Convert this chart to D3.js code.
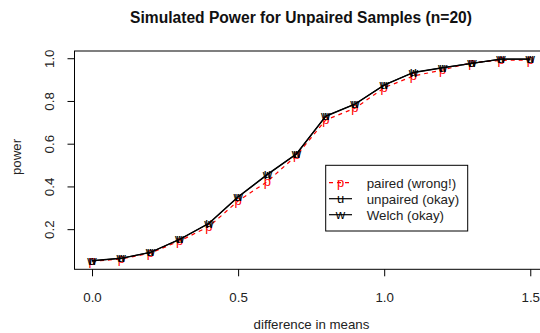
<!DOCTYPE html>
<html>
<head>
<meta charset="utf-8">
<script src="https://cdn.jsdelivr.net/npm/d3@7"></script>
<style>
  html, body { margin: 0; padding: 0; background: #fff; }
  svg { display: block; }
  text { font-family: "Liberation Sans", Arial, Helvetica, sans-serif; }
</style>
</head>
<body>
<svg id="chart" width="540" height="333"></svg>
<script>
// simulated power
const diffs    = [0, 0.1, 0.2, 0.3, 0.4, 0.5, 0.6, 0.7, 0.8, 0.9, 1.0, 1.1, 1.2, 1.3, 1.4, 1.5];
const paired   = [0.050, 0.060, 0.088, 0.145, 0.212, 0.332, 0.423, 0.545, 0.711, 0.766, 0.862, 0.917, 0.945, 0.980, 0.990, 0.992];
const unpaired = [0.053, 0.064, 0.092, 0.153, 0.228, 0.352, 0.457, 0.553, 0.730, 0.786, 0.875, 0.934, 0.956, 0.976, 0.996, 0.996];
const welch    = [0.052, 0.063, 0.091, 0.152, 0.226, 0.350, 0.455, 0.552, 0.728, 0.785, 0.874, 0.933, 0.955, 0.976, 0.996, 0.996];
const xTicks = [0, 0.5, 1.0, 1.5];
const yTicks = [0.2, 0.4, 0.6, 0.8, 1.0];
const seriesNames = ['paired (wrong!)', 'unpaired (okay)', 'Welch (okay)'];

const svg = d3.select('#chart');

// plot region (right edge runs past the window, like the reference)
const L = 74.5, R = 547.8, T = 51, B = 269.3;

// R-style 4% padding on the data range
function pad(ext) { const d = (ext[1] - ext[0]) * 0.04; return [ext[0] - d, ext[1] + d]; }
const x = d3.scaleLinear().domain(pad(d3.extent(diffs))).range([L, R]);
const allY = paired.concat(unpaired, welch);
const y = d3.scaleLinear().domain(pad(d3.extent(allY))).range([B, T]);

const series = [
  { name: seriesNames[0], vals: paired,   color: 'red',   dash: '4,4', pch: 'p' },
  { name: seriesNames[1], vals: unpaired, color: 'black', dash: null,  pch: 'u' },
  { name: seriesNames[2], vals: welch,    color: 'black', dash: null,  pch: 'w' },
];

/* ---------- axes ---------- */
const xAxis = svg.append('g')
  .attr('transform', `translate(0,${B})`)
  .call(d3.axisBottom(x).tickValues(xTicks).tickFormat(d3.format('.1f')).tickSize(7).tickPadding(0));
xAxis.select('.domain').remove();
xAxis.selectAll('line').attr('stroke', '#000');
xAxis.selectAll('text')
  .attr('dy', null).attr('y', 33)
  .attr('font-size', '13.3px').attr('fill', '#222');

const yAxis = svg.append('g')
  .attr('transform', `translate(${L},0)`)
  .call(d3.axisLeft(y).tickValues(yTicks).tickFormat(d3.format('.1f')).tickSize(7));
yAxis.select('.domain').remove();
yAxis.selectAll('line').attr('stroke', '#000');
yAxis.selectAll('text')
  .attr('x', null).attr('dy', null)
  .attr('text-anchor', 'middle')
  .attr('transform', 'translate(-21,0) rotate(-90)')
  .attr('font-size', '13.3px').attr('fill', '#222');

// plot box
svg.append('rect')
  .attr('x', L).attr('y', T).attr('width', R - L).attr('height', B - T)
  .attr('fill', 'none').attr('stroke', '#000').attr('stroke-width', 1);

/* ---------- series ---------- */
const line = d3.line().x((d, i) => x(diffs[i])).y(d => y(d));

series.forEach(s => {
  svg.append('path')
    .attr('d', line(s.vals))
    .attr('fill', 'none')
    .attr('stroke', s.color)
    .attr('stroke-width', 1.2)
    .attr('stroke-dasharray', s.dash);
  svg.append('g').selectAll('text')
    .data(s.vals)
    .join('text')
    .attr('x', (d, i) => x(diffs[i]))
    .attr('y', d => y(d) + 4)
    .attr('text-anchor', 'middle')
    .attr('font-size', '13px')
    .attr('fill', s.color)
    .text(s.pch);
});

/* ---------- legend ---------- */
const lg = svg.append('g');
lg.append('rect')
  .attr('x', 325.7).attr('y', 165.3).attr('width', 142).attr('height', 65.7)
  .attr('fill', '#fff').attr('stroke', '#000');
series.forEach((s, i) => {
  const ly = 182.7 + i * 16;
  lg.append('line')
    .attr('x1', 329).attr('x2', 352).attr('y1', ly).attr('y2', ly)
    .attr('stroke', s.color).attr('stroke-width', 1.2)
    .attr('stroke-dasharray', s.dash);
  lg.append('text')
    .attr('x', 340.5).attr('y', ly + 4)
    .attr('text-anchor', 'middle').attr('font-size', '13px')
    .attr('fill', s.color).text(s.pch);
  lg.append('text')
    .attr('x', 366.7).attr('y', ly + 5)
    .attr('font-size', '13.3px').attr('fill', '#222')
    .text(s.name);
});

/* ---------- titles ---------- */
svg.append('text')
  .attr('x', 301).attr('y', 23)
  .attr('text-anchor', 'middle')
  .attr('font-size', '15.6px').attr('font-weight', 'bold').attr('fill', '#111')
  .text('Simulated Power for Unpaired Samples (n=20)');

svg.append('text')
  .attr('x', 311.5).attr('y', 329)
  .attr('text-anchor', 'middle')
  .attr('font-size', '13.3px').attr('fill', '#222')
  .text('difference in means');

svg.append('text')
  .attr('transform', 'translate(21,157) rotate(-90)')
  .attr('text-anchor', 'middle')
  .attr('font-size', '13.3px').attr('fill', '#222')
  .text('power');
</script>
</body>
</html>
